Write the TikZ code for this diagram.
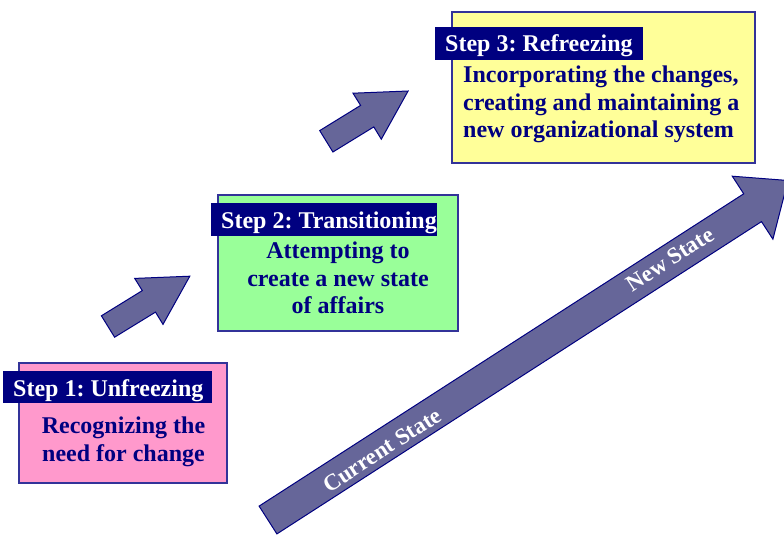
\documentclass[tikz,border=0pt]{standalone}
\usepackage{fontspec}
\setmainfont{Liberation Serif}
\frenchspacing
\definecolor{darknavy}{RGB}{0,0,128}
\definecolor{boxline}{RGB}{51,51,153}
\definecolor{pinkfill}{RGB}{255,153,204}
\definecolor{greenfill}{RGB}{153,255,153}
\definecolor{yellowfill}{RGB}{255,255,153}
\definecolor{arrowfill}{RGB}{102,102,153}

\begin{document}
\begin{tikzpicture}[x=1pt,y=-1pt,
  stagebox/.style={draw=boxline, line width=1.3pt, inner sep=0pt},
  tagbox/.style={fill=darknavy, inner sep=0pt},
  tagtext/.style={text=white, inner sep=0pt, anchor=base west,
    font=\fontsize{24}{27.5}\selectfont\bfseries},
  bodytext/.style={text=darknavy, inner sep=0pt,
    font=\fontsize{24}{27.8}\selectfont\bfseries},
  blockarrow/.style={fill=arrowfill, draw=darknavy, line width=1pt, line join=miter},
  arrowtext/.style={text=white, inner sep=0pt,
    font=\fontsize{23}{25}\selectfont\bfseries}]

\useasboundingbox (0,0) rectangle (784,535);

% small step arrows
\draw[blockarrow] (101.4,315.8) -- (142.3,290.6) -- (134.7,278.4) -- (189.8,276.2)
  -- (163.0,324.4) -- (155.5,312.1) -- (114.6,337.2) -- cycle;
\draw[blockarrow] (319.7,130.6) -- (360.6,105.4) -- (353.0,93.2) -- (408.1,91.0)
  -- (381.3,139.2) -- (373.8,126.9) -- (332.9,152.0) -- cycle;

% long arrow from the current state to the new state
\draw[blockarrow] (259.1,506.1) -- (743.7,193.8) -- (732.3,176.2) -- (788,180.5)
  -- (772.9,239.2) -- (761.5,221.6) -- (276.9,533.9) -- cycle;
\node[arrowtext, rotate=32.8] (cur) at (382,450) {Current State};
\node[arrowtext, rotate=32.8] (new) at (670,259) {New State};

% step 1
\node[stagebox, fill=pinkfill, minimum width=208pt, minimum height=120pt] (box1) at (123,423) {};
\node[tagbox, minimum width=209pt, minimum height=32pt] (tag1) at (107.5,387) {};
\node[tagtext] (title1) at (13,396) {Step 1: Unfreezing};
\node[bodytext, align=center, anchor=north] (body1) at (123.5,415)
  {\rule{0pt}{18pt}Recognizing the\\need for change};

% step 2
\node[stagebox, fill=greenfill, minimum width=240pt, minimum height=136pt] (box2) at (338,263) {};
\node[tagbox, minimum width=226pt, minimum height=33pt] (tag2) at (324,219.5) {};
\node[tagtext] (title2) at (221,228) {Step 2: Transitioning};
\node[bodytext, align=center, anchor=north] (body2) at (338,240)
  {\rule{0pt}{18pt}Attempting to\\create a new state\\of affairs};

% step 3
\node[stagebox, fill=yellowfill, minimum width=303pt, minimum height=151pt] (box3) at (603.5,87.5) {};
\node[tagbox, minimum width=208pt, minimum height=33pt] (tag3) at (539,43.5) {};
\node[tagtext] (title3) at (445,52) {Step 3: Refreezing};
\node[bodytext, align=left, anchor=north west] (body3) at (463,64)
  {\rule{0pt}{18pt}Incorporating the changes,\\creating and maintaining a\\new organizational system};

\end{tikzpicture}
\end{document}
